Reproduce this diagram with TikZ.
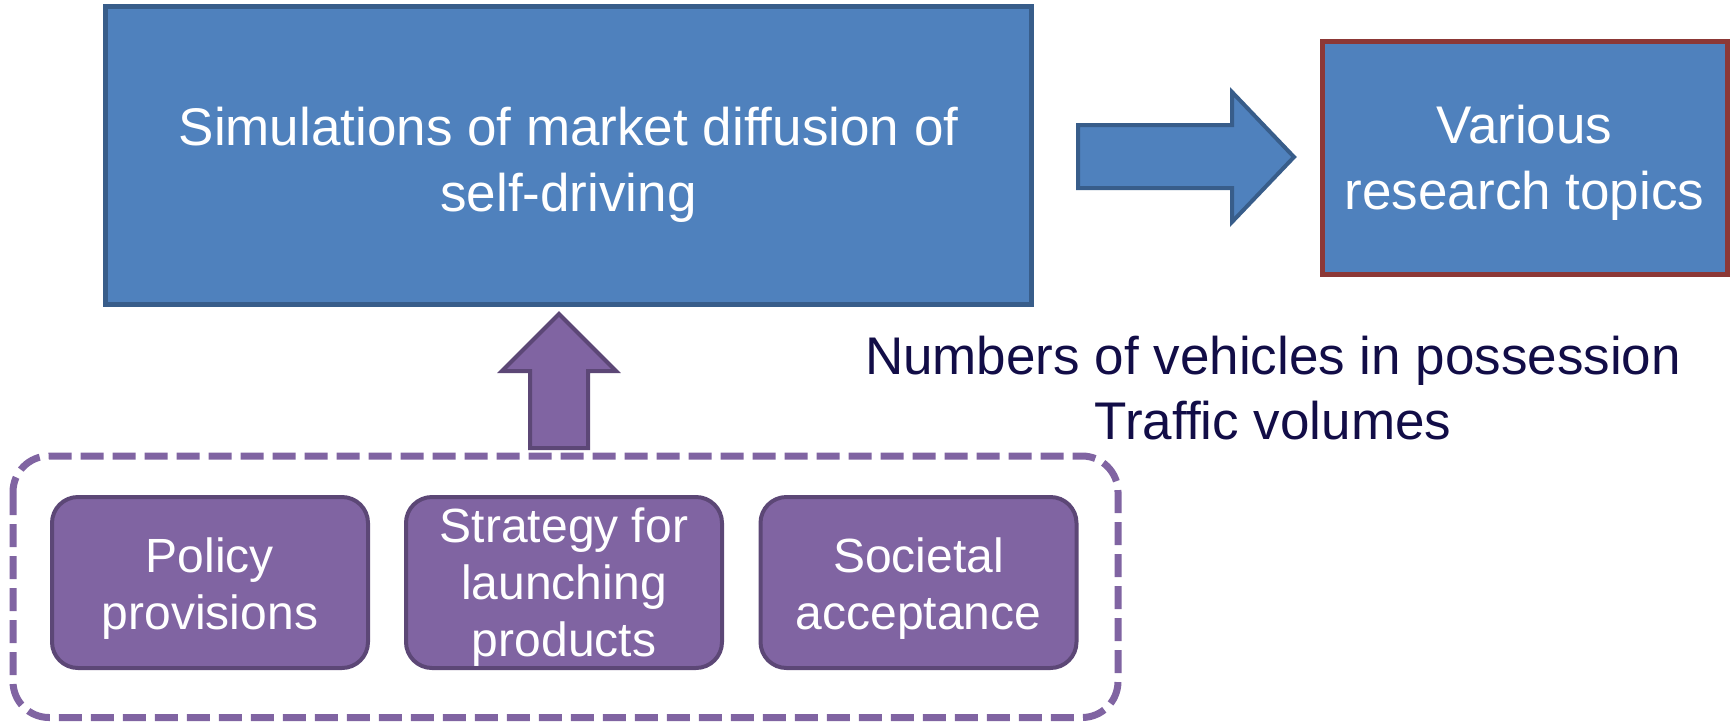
\documentclass[tikz,border=0pt]{standalone}
\usepackage{fontspec}
\setmainfont{Liberation Sans}
\usetikzlibrary{positioning}
\definecolor{bluefill}{HTML}{4F81BD}
\definecolor{blueline}{HTML}{385D8A}
\definecolor{redline}{HTML}{8C3836}
\definecolor{purfill}{HTML}{8064A2}
\definecolor{purline}{HTML}{5C4776}
\definecolor{navytext}{HTML}{120D47}
\tikzset{
  bluebox/.style={draw=blueline, fill=bluefill, line width=5pt, inner sep=0pt},
  bigtext/.style={text=white, align=center, font=\fontsize{53}{66}\selectfont, inner sep=0pt},
  purbox/.style={draw=purline, fill=purfill, line width=4pt, rounded corners=26pt, inner sep=0pt,
    minimum width=316pt, minimum height=171pt},
  smalltext/.style={text=white, align=center, font=\fontsize{48}{57}\selectfont, inner sep=0pt},
  blockarrow/.style={line width=4pt, line join=miter},
}
\begin{document}
\begin{tikzpicture}[x=1pt,y=-1pt]
\useasboundingbox (0,0) rectangle (1730,724);
% main box
\node[bluebox, minimum width=926pt, minimum height=298pt] (main) at (568.5,155.5) {};
\node[bigtext] (maintext) at ([yshift=-9pt]main.center) {Simulations of market diffusion of\\self-driving};
% right box
\node[bluebox, draw=redline, minimum width=405pt, minimum height=233pt] (topics) at (1524.5,158) {};
\node[bigtext] (topicstext) at ([yshift=-5pt]topics.center) {Various\\research topics};
% right block arrow
\draw[blockarrow, draw=blueline, fill=bluefill]
  (1078,125) -- (1232,125) -- (1232,92) -- (1294,157) -- (1232,222) -- (1232,188) -- (1078,188) -- cycle;
% output labels
\node[text=navytext, font=\fontsize{53}{65}\selectfont, align=center, inner sep=0pt] (outputs) at (1273,388)
  {Numbers of vehicles in possession\\Traffic volumes};
% dashed group
\draw[draw=purfill, line width=7pt, dash pattern=on 23pt off 9pt, rounded corners=36pt]
  (13,456) rectangle (1118,717.5);
% small boxes
\node[purbox] (policy) at (210,582.5) {};
\node[purbox] (strategy) at (564,582.5) {};
\node[purbox] (societal) at (918.5,582.5) {};
\node[smalltext] (policytext) at ([yshift=-6pt]policy.center) {Policy\\provisions};
\node[smalltext] (strategytext) at ([yshift=-5pt]strategy.center) {Strategy for\\launching\\products};
\node[smalltext] (societaltext) at ([yshift=-6pt]societal.center) {Societal\\acceptance};
% up block arrow
\draw[blockarrow, draw=purline, fill=purfill]
  (530,448) -- (530,371) -- (502,371) -- (559,314) -- (616,371) -- (588,371) -- (588,448) -- cycle;
\end{tikzpicture}
\end{document}
